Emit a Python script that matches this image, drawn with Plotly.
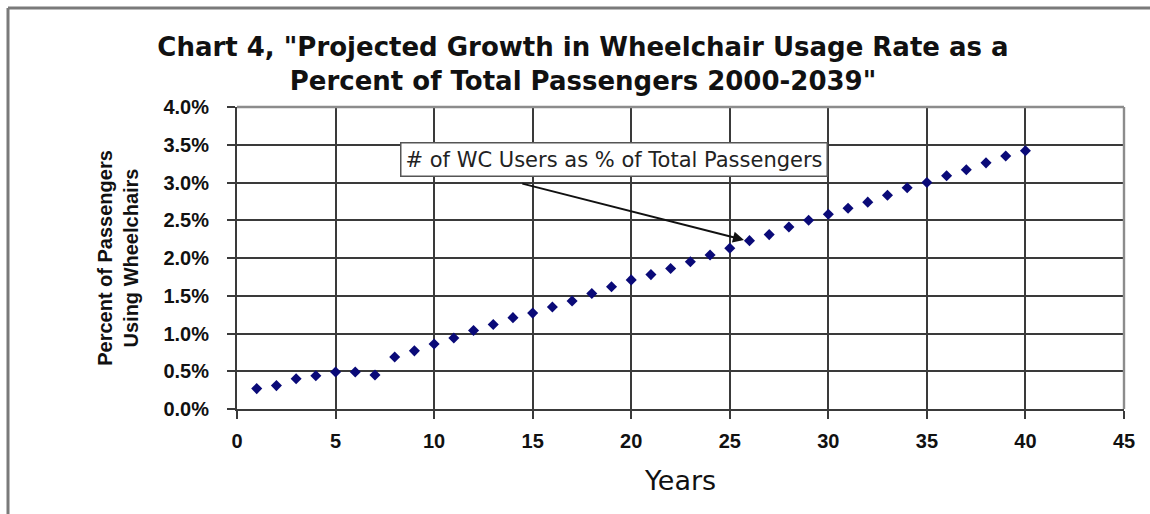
import plotly.graph_objects as go

# Projected wheelchair usage rate, years 1-40 (percent of total passengers)
years = list(range(1, 41))
wc_rate_pct = [
    0.27, 0.31, 0.40, 0.44, 0.49, 0.49, 0.45, 0.69, 0.77, 0.86,
    0.94, 1.04, 1.12, 1.21, 1.27, 1.35, 1.43, 1.53, 1.62, 1.71,
    1.78, 1.86, 1.95, 2.04, 2.13, 2.23, 2.31, 2.41, 2.50, 2.58,
    2.66, 2.74, 2.83, 2.93, 3.00, 3.09, 3.17, 3.26, 3.35, 3.42,
]

x_ticks = [0, 5, 10, 15, 20, 25, 30, 35, 40, 45]
y_ticks = [0.0, 0.5, 1.0, 1.5, 2.0, 2.5, 3.0, 3.5, 4.0]
y_tick_text = [f"{v:.1f}%" for v in y_ticks]

series_name = "# of WC Users as % of Total Passengers"
title_text = ('Chart 4, "Projected Growth in Wheelchair Usage Rate as a<br>'
              'Percent of Total Passengers 2000-2039"')

SANS = "Liberation Sans, Arial, sans-serif"
WIDE = "DejaVu Sans, Verdana, sans-serif"
INK = "#111111"
GRID = "#3a3a3a"

fig = go.Figure()
fig.add_trace(go.Scatter(
    x=years, y=wc_rate_pct, mode="markers", name=series_name,
    marker=dict(symbol="diamond", size=8.5, color="#0a0a78"),
    showlegend=False,
))

W, H = 1150, 514
ML, MR, MT, MB = 237, 26, 107, 105
pw, ph = W - ML - MR, H - MT - MB

def px_x(p):
    return (p - ML) / pw

def px_y(p):
    return (H - MB - p) / ph

frame = dict(color="#7a7a7a", width=3)

fig.update_layout(
    width=W, height=H,
    margin=dict(l=ML, r=MR, t=MT, b=MB),
    paper_bgcolor="white", plot_bgcolor="white",
    font=dict(family=SANS, color=INK),
    title=dict(
        text=f"<b>{title_text}</b>",
        font=dict(size=26, family=WIDE, color=INK),
        x=583 / W, xanchor="center", xref="container",
        y=1 - 56 / H, yanchor="middle", yref="container",
    ),
    xaxis=dict(
        range=[0, 45], tickvals=x_ticks,
        showgrid=True, gridcolor=GRID, gridwidth=1.8,
        showline=True, linecolor=GRID, linewidth=2,
        ticks="outside", ticklen=8, tickwidth=2, tickcolor=GRID,
        tickfont=dict(size=20, family=SANS, color=INK, weight="bold"),
        ticklabelstandoff=5,
        zeroline=False,
        title=dict(text="Years", font=dict(size=27, family=WIDE, color=INK),
                   standoff=20),
    ),
    yaxis=dict(
        range=[0, 4], tickvals=y_ticks, ticktext=y_tick_text,
        showgrid=True, gridcolor=GRID, gridwidth=1.8,
        showline=True, linecolor=GRID, linewidth=2,
        ticks="outside", ticklen=8, tickwidth=2, tickcolor=GRID,
        tickfont=dict(size=20, family=SANS, color=INK, weight="bold"),
        ticklabelstandoff=14,
        zeroline=False,
        title=dict(text="<b>Percent of Passengers<br>Using Wheelchairs</b>",
                   font=dict(size=20, family=SANS, color=INK),
                   standoff=19),
    ),
    shapes=[
        # lighter frame along the top and right of the plotting area
        dict(type="line", xref="paper", yref="paper", x0=0, x1=1, y0=1, y1=1,
             line=dict(color="#8c8c8c", width=2.4), layer="above"),
        dict(type="line", xref="paper", yref="paper", x0=1, x1=1, y0=0, y1=1,
             line=dict(color="#8c8c8c", width=2.4), layer="above"),
        # outer chart frame: left and top edges
        dict(type="line", xref="paper", yref="paper",
             x0=px_x(8), x1=px_x(8), y0=px_y(530), y1=px_y(8), line=frame),
        dict(type="line", xref="paper", yref="paper",
             x0=px_x(8), x1=px_x(1170), y0=px_y(8), y1=px_y(8), line=frame),
    ],
    annotations=[
        dict(text=series_name, x=19.15, y=3.31, xref="x", yref="y",
             showarrow=False, font=dict(size=21, family=WIDE, color="#222222"),
             bgcolor="white", bordercolor="#555555", borderwidth=1.5, borderpad=4),
        dict(text="", x=25.72, y=2.24, xref="x", yref="y",
             ax=14.4, ay=2.99, axref="x", ayref="y",
             showarrow=True, arrowhead=2, arrowsize=1.1, arrowwidth=2,
             arrowcolor=INK, standoff=0),
    ],
)

fig.write_html("out.html")
